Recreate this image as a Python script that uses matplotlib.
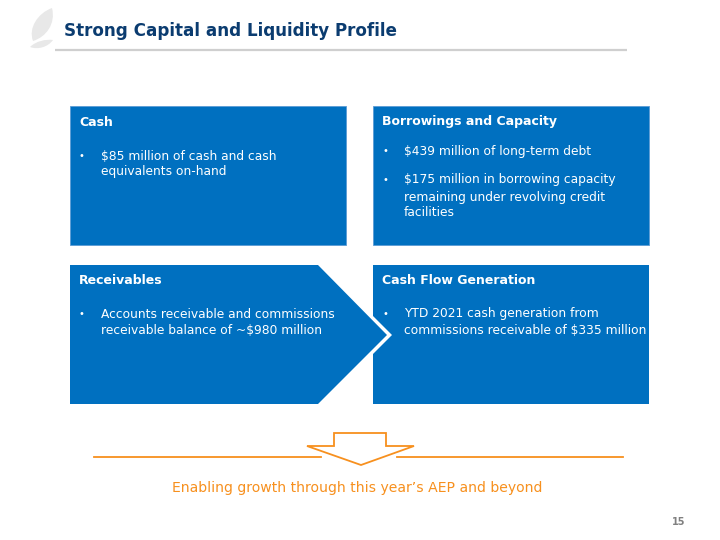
import matplotlib
matplotlib.use("Agg")
import matplotlib.pyplot as plt
from matplotlib.patches import Polygon, PathPatch
from matplotlib.path import Path

# ---- content ----
title = "Strong Capital and Liquidity Profile"
headings = ["Cash", "Borrowings and Capacity", "Receivables", "Cash Flow Generation"]
bullets_cash = [["$85 million of cash and cash", "equivalents on-hand"]]
bullets_borrow = [["$439 million of long-term debt"],
                  ["$175 million in borrowing capacity", "remaining under revolving credit", "facilities"]]
bullets_recv = [["Accounts receivable and commissions", "receivable balance of ~$980 million"]]
bullets_flow = [["YTD 2021 cash generation from", "commissions receivable of $335 million"]]
footer = "Enabling growth through this year\u2019s AEP and beyond"
page_number = "15"

BLUE = "#0070C0"
NAVY = "#0B3C70"
ORANGE = "#F7901E"
FONT = "DejaVu Sans"

fig = plt.figure(figsize=(7.2, 5.4), dpi=100)
ax = fig.add_axes([0, 0, 1, 1])
ax.set_xlim(0, 720)
ax.set_ylim(540, 0)
ax.axis("off")

# logo leaves
leaf1 = Path([(33, 41), (28, 28), (38, 13), (52, 8), (56, 24), (46, 37), (33, 41), (33, 41)],
             [Path.MOVETO, Path.CURVE4, Path.CURVE4, Path.CURVE4, Path.CURVE4, Path.CURVE4, Path.CURVE4, Path.CLOSEPOLY])
ax.add_patch(PathPatch(leaf1, facecolor="#e8e8e8", edgecolor="none"))
leaf2 = Path([(30, 47), (36, 41), (46, 39), (53, 40), (48, 47), (38, 50), (30, 47), (30, 47)],
             [Path.MOVETO, Path.CURVE4, Path.CURVE4, Path.CURVE4, Path.CURVE4, Path.CURVE4, Path.CURVE4, Path.CLOSEPOLY])
ax.add_patch(PathPatch(leaf2, facecolor="#e8e8e8", edgecolor="none"))

# title + rule
ax.text(64, 31, title, fontsize=12.1, fontweight="bold", color=NAVY, family=FONT, va="center", ha="left")
ax.plot([55, 627], [49.5, 49.5], color="#cfcfcf", lw=1.6, solid_capstyle="butt")

# boxes
ax.add_patch(Polygon([(70, 106), (346, 106), (346, 245), (70, 245)], closed=True, facecolor=BLUE, edgecolor="#5b9bd5", lw=0.6))
ax.add_patch(Polygon([(373, 106), (649, 106), (649, 245), (373, 245)], closed=True, facecolor=BLUE, edgecolor="#5b9bd5", lw=0.6))
ax.add_patch(Polygon([(70, 265), (318, 265), (387, 335), (318, 404), (70, 404)], closed=True, facecolor=BLUE, edgecolor="none"))
ax.add_patch(Polygon([(373, 265), (649, 265), (649, 404), (373, 404), (373, 354), (392, 335), (373, 316)],
                     closed=True, facecolor=BLUE, edgecolor="none"))

def block(x, head_y, groups, line_ys, heading):
    ax.text(x, head_y, heading, fontsize=9.0, fontweight="bold", color="white", family=FONT, va="center", ha="left")
    i = 0
    for g in groups:
        for j, line in enumerate(g):
            if j == 0:
                ax.text(x, line_ys[i], "\u2022", fontsize=7, color="white", family=FONT, va="center", ha="left")
            ax.text(x + 22, line_ys[i], line, fontsize=8.8, color="white", family=FONT, va="center", ha="left")
            i += 1

block(79, 122, bullets_cash, [156, 172], headings[0])
block(382, 122, bullets_borrow, [151, 180, 197, 213], headings[1])
block(79, 281, bullets_recv, [314, 331], headings[2])
block(382, 281, bullets_flow, [314, 331], headings[3])

# orange arrow and lines
ax.plot([94, 321], [457, 457], color=ORANGE, lw=1.3)
ax.plot([397, 623], [457, 457], color=ORANGE, lw=1.3)
ax.add_patch(Polygon([(334, 433), (386, 433), (386, 446), (414, 446), (361, 465), (307, 446), (334, 446)],
                     closed=True, facecolor="white", edgecolor=ORANGE, lw=1.3))

ax.text(357, 488, footer, fontsize=10.1, color=ORANGE, family=FONT, va="center", ha="center")
ax.text(679, 522, page_number, fontsize=7, fontweight="bold", color="#808080", family=FONT, va="center", ha="center")

fig.savefig("out.png", dpi=100)
